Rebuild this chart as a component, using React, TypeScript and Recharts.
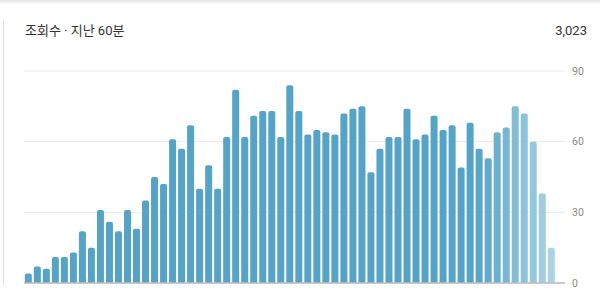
import React from "react";
import { BarChart, Bar, XAxis, YAxis, CartesianGrid, ReferenceLine, Cell } from "recharts";

const minutes: string[] = Array.from({ length: 60 }, (_, i) => `${60 - i}`);
const views: number[] = [
  4, 7, 6, 11, 11, 13, 22, 15, 31, 26,
  22, 31, 23, 35, 45, 42, 61, 57, 67, 40,
  50, 40, 62, 82, 62, 71, 73, 73, 62, 84,
  73, 63, 65, 64, 63, 72, 74, 75, 47, 57,
  62, 62, 74, 61, 63, 71, 65, 67, 49, 68,
  57, 53, 64, 66, 75, 72, 60, 38, 15, 0,
];
const yTicks: number[] = [0, 30, 60, 90];
const title = "조회수 · 지난 60분";
const total = "3,023";

const MAIN = "#55a4c8";
const fadeFills: string[] = [
  "#58a6c9", "#62abcc", "#6cb1cf", "#77b7d3", "#82bdd6",
  "#8cc3da", "#96c8dd", "#a0cde0", "#abd3e5", "#b3d7e7",
];

const data = minutes.map((m, i) => ({ minute: m, views: views[i] }));
const fillFor = (i: number) => (i < 50 ? MAIN : fadeFills[i - 50]);

export default function App() {
  return (
    <div
      style={{
        position: "absolute",
        left: 0,
        top: 0,
        width: 600,
        height: 295,
        background: "#fff",
        overflow: "hidden",
        fontFamily: "Roboto, 'Noto Sans CJK KR', sans-serif",
      }}
    >
      <div
        style={{
          position: "absolute",
          left: 0,
          top: 0,
          width: 600,
          height: 4,
          background: "linear-gradient(#e4e4e4, #ffffff)",
        }}
      />
      <div
        style={{
          position: "absolute",
          left: 3,
          top: 21,
          width: 1,
          height: 265,
          background: "#e2e2e2",
        }}
      />
      <div
        style={{
          position: "absolute",
          left: 25,
          top: 22,
          fontSize: 13,
          color: "#333",
          lineHeight: "18px",
        }}
      >
        {title}
      </div>
      <div
        style={{
          position: "absolute",
          right: 13,
          top: 22,
          fontSize: 13,
          color: "#333",
          lineHeight: "18px",
        }}
      >
        {total}
      </div>
      <div style={{ position: "absolute", left: 0, top: 0 }}>
        <BarChart
          width={600}
          height={295}
          data={data}
          margin={{ top: 71, right: 0, bottom: 12, left: 24 }}
          barCategoryGap="9%"
        >
          <CartesianGrid horizontal vertical={false} stroke="#ebebeb" />
          <XAxis dataKey="minute" hide />
          <YAxis
            orientation="right"
            domain={[0, 90]}
            ticks={yTicks}
            width={35}
            axisLine={false}
            tickLine={false}
            tickSize={0}
            tickMargin={7}
            tick={{ fontSize: 10.5, fill: "#8a8a8a" }}
          />
          <Bar dataKey="views" radius={[2, 2, 0, 0]} isAnimationActive={false}>
            {data.map((_, i) => (
              <Cell key={i} fill={fillFor(i)} />
            ))}
          </Bar>
          <ReferenceLine y={0} stroke="#bdbdbd" strokeWidth={1.3} />
        </BarChart>
      </div>
    </div>
  );
}
